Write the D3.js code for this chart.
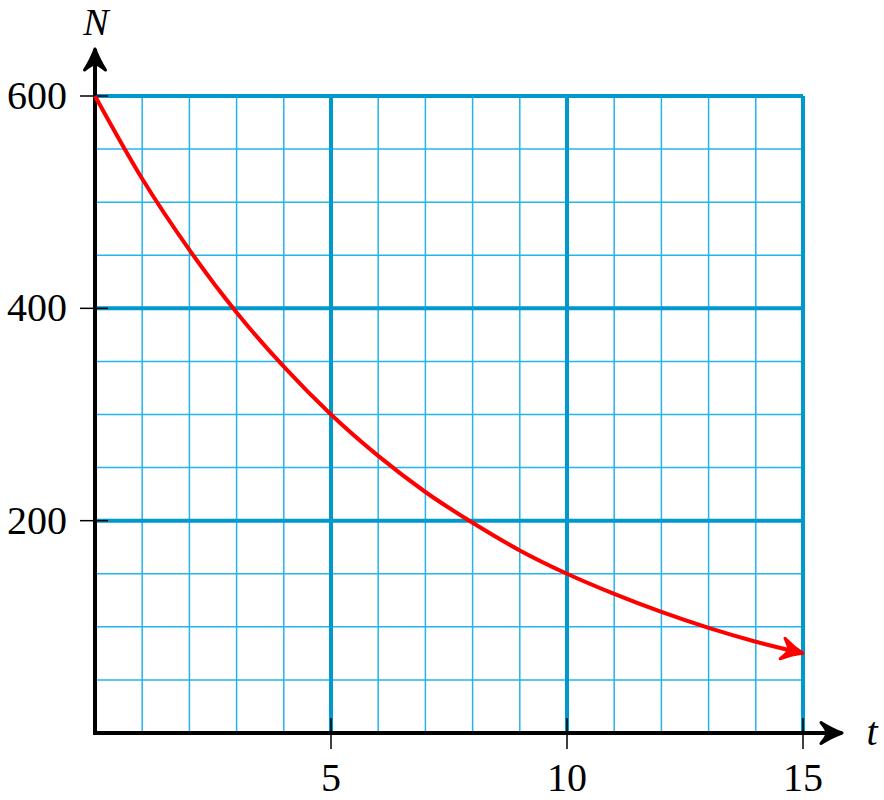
<!DOCTYPE html>
<html><head><meta charset="utf-8">
<script src="https://cdn.jsdelivr.net/npm/d3@7"></script>
<style>body{margin:0;background:#fff}</style>
</head><body>
<svg id="c" width="884" height="800"></svg>
<script>
const tValues = [0,1,2,3,4,5,6,7,8,9,10,11,12,13,14,15];
const nValues = [600,522,455,396,345,300,261,227,198,172,150,131,114,99,86,75];
const xTickLabels = [5,10,15];
const yTickLabels = [200,400,600];
const xMinor = d3.range(0,16,1);
const yMinor = d3.range(0,601,50);
const xMajor = [5,10,15];
const yMajor = [200,400,600];

const svg = d3.select("#c");
const x = d3.scaleLinear().domain([0,15]).range([95,803]);
const y = d3.scaleLinear().domain([0,600]).range([733,96]);
const font = "'Liberation Serif', 'DejaVu Serif', serif";

const g = svg.append("g");
g.selectAll(".vx").data(xMinor).join("line")
 .attr("x1",d=>x(d)).attr("x2",d=>x(d)).attr("y1",y(0)).attr("y2",y(600))
 .attr("stroke","#22b4ea").attr("stroke-width",1.5);
g.selectAll(".hy").data(yMinor).join("line")
 .attr("y1",d=>y(d)).attr("y2",d=>y(d)).attr("x1",x(0)).attr("x2",x(15))
 .attr("stroke","#22b4ea").attr("stroke-width",1.5);
g.selectAll(".mx").data(xMajor).join("line")
 .attr("x1",d=>x(d)).attr("x2",d=>x(d)).attr("y1",y(0)).attr("y2",y(600))
 .attr("stroke","#0099cc").attr("stroke-width",4);
g.selectAll(".my").data(yMajor).join("line")
 .attr("y1",d=>y(d)).attr("y2",d=>y(d)).attr("x1",x(0)).attr("x2",x(15))
 .attr("stroke","#0099cc").attr("stroke-width",4);

const defs = svg.append("defs");
function arrow(id,color){
  defs.append("marker").attr("id",id).attr("viewBox","-26 -14 30 28")
   .attr("refX",0).attr("refY",0).attr("markerWidth",30).attr("markerHeight",28)
   .attr("markerUnits","userSpaceOnUse").attr("orient","auto")
   .append("path").attr("d","M0,0 Q-10,-3.5 -21,-10.5 Q-15,-3 -15,0 Q-15,3 -21,10.5 Q-10,3.5 0,0 Z")
   .attr("fill",color).attr("stroke",color).attr("stroke-width",3)
   .attr("stroke-linejoin","round");
}
arrow("ak","#000"); arrow("ar","#ff0000");

svg.append("line").attr("x1",x(0)-2).attr("x2",842).attr("y1",y(0)).attr("y2",y(0))
 .attr("stroke","#000").attr("stroke-width",4).attr("marker-end","url(#ak)");
svg.append("line").attr("x1",x(0)).attr("x2",x(0)).attr("y1",y(0)+2).attr("y2",49)
 .attr("stroke","#000").attr("stroke-width",4).attr("marker-end","url(#ak)");

svg.selectAll(".xt").data(xTickLabels).join("line")
 .attr("x1",d=>x(d)).attr("x2",d=>x(d)).attr("y1",y(0)-15).attr("y2",y(0)+16)
 .attr("stroke","#000").attr("stroke-width",1.5);
svg.selectAll(".yt").data(yTickLabels).join("line")
 .attr("y1",d=>y(d)).attr("y2",d=>y(d)).attr("x1",x(0)-15).attr("x2",x(0)+13)
 .attr("stroke","#000").attr("stroke-width",1.5);

svg.selectAll(".xl").data(xTickLabels).join("text")
 .attr("x",d=>x(d)).attr("y",791).attr("text-anchor","middle")
 .attr("font-family",font).attr("font-size",40).text(d=>d);
svg.selectAll(".yl").data(yTickLabels).join("text")
 .attr("x",67).attr("y",d=>y(d)+13).attr("text-anchor","end")
 .attr("font-family",font).attr("font-size",40).text(d=>d);

svg.append("text").attr("x",96).attr("y",35).attr("text-anchor","middle")
 .attr("font-family",font).attr("font-style","italic").attr("font-size",38).text("N");
svg.append("text").attr("x",872).attr("y",745).attr("text-anchor","middle")
 .attr("font-family",font).attr("font-style","italic").attr("font-size",40).text("t");

const line = d3.line().x((d,i)=>x(tValues[i])).y(d=>y(d)).curve(d3.curveMonotoneX);
svg.append("path").datum(nValues).attr("d",line).attr("fill","none")
 .attr("stroke","#ff0000").attr("stroke-width",4).attr("marker-end","url(#ar)");
</script>
</body></html>
